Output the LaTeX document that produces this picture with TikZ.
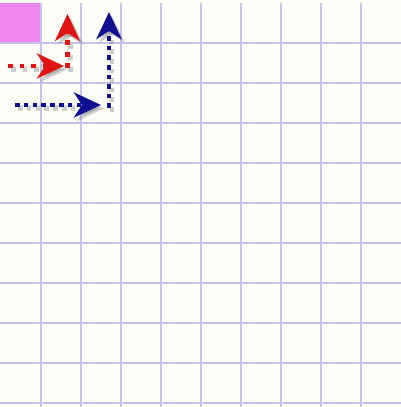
\documentclass[tikz,border=0pt]{standalone}
\usetikzlibrary{arrows.meta}
\definecolor{paper}{RGB}{255,255,250}
\definecolor{gridc}{RGB}{195,195,238}
\definecolor{pinkc}{RGB}{240,135,240}
\definecolor{redc}{RGB}{225,20,20}
\definecolor{bluec}{RGB}{15,15,145}
\tikzset{
  gridline/.style={draw=gridc,line width=1.8pt},
  dotarrow/.style 2 args={line width=4.6pt,line cap=butt,dash pattern=on 4.6pt off #1,
    -{Stealth[length=27pt,width=25pt,inset=8pt]},draw=#2,fill=#2},
  shadowcopy/.style={transform canvas={shift={(3pt,-3.5pt)}},opacity=0.35},
}
\begin{document}
\begin{tikzpicture}[x=1pt,y=-1pt]
  \fill[paper] (0,0) rectangle (401,407);
  \useasboundingbox (0,0) rectangle (401,407);
  % pink cell
  \fill[pinkc] (0,3) rectangle (41,43);
  % grid
  \foreach \i in {0,...,8} { \draw[gridline] (41+40*\i,3) -- (41+40*\i,407); }
  \foreach \j in {0,...,9} { \draw[gridline] (0,43+40*\j) -- (401,43+40*\j); }
  % coordinates
  \coordinate (rs) at (8,66);
  \coordinate (rt) at (64,66);
  \coordinate (rc) at (67.5,68);
  \coordinate (ru) at (67.5,14);
  \coordinate (bs) at (15,105);
  \coordinate (bt) at (101,105);
  \coordinate (bc) at (109,108);
  \coordinate (bu) at (109,12);
  % shadows
  \draw[dotarrow={6.9pt}{black!55},shadowcopy] (rs) -- (rt);
  \draw[dotarrow={6.9pt}{black!55},shadowcopy] (rc) -- (ru);
  \draw[dotarrow={4.2pt}{black!55},shadowcopy] (bs) -- (bt);
  \draw[dotarrow={5pt}{black!55},shadowcopy] (bc) -- (bu);
  % arrows
  \draw[dotarrow={6.9pt}{redc}] (rs) -- (rt);
  \draw[dotarrow={6.9pt}{redc}] (rc) -- (ru);
  \draw[dotarrow={4.2pt}{bluec}] (bs) -- (bt);
  \draw[dotarrow={5pt}{bluec}] (bc) -- (bu);
\end{tikzpicture}
\end{document}
